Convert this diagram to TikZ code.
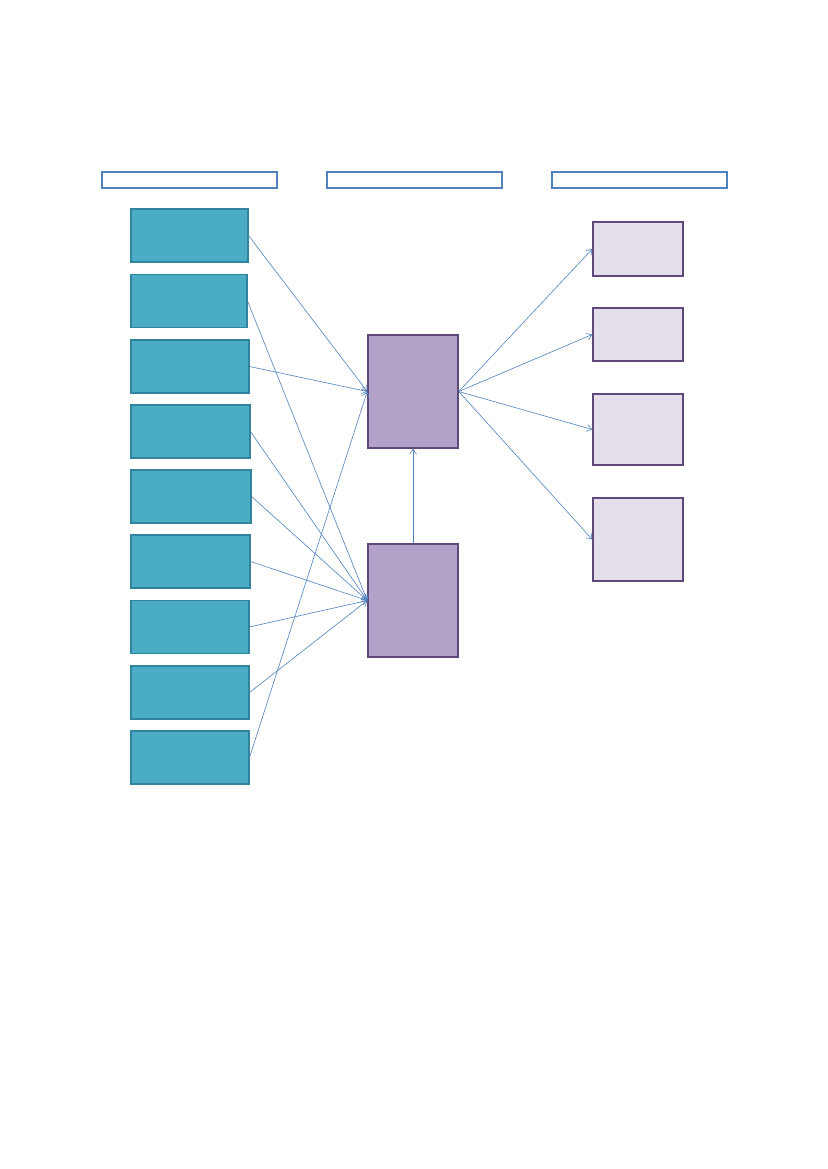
\documentclass[tikz,border=0pt]{standalone}
\usetikzlibrary{arrows.meta,positioning}
\definecolor{hdr}{HTML}{4F81BD}
\definecolor{tealf}{HTML}{4BACC6}
\definecolor{teald}{HTML}{31849B}
\definecolor{plum}{HTML}{B2A2C7}
\definecolor{plumd}{HTML}{5F497A}
\definecolor{lilac}{HTML}{E5DFEC}
\tikzset{h/.style={draw=hdr,line width=1.5pt,minimum width=175pt,minimum height=16pt,inner sep=0pt},
 src/.style={draw=teald,fill=tealf,line width=1.5pt,minimum height=53pt,inner sep=0pt},
 hub/.style={draw=plumd,fill=plum,line width=1.5pt,minimum width=90pt,minimum height=113pt,inner sep=0pt},
 res/.style={draw=plumd,fill=lilac,line width=1.5pt,minimum width=90pt,inner sep=0pt},
 flow/.style={-{Straight Barb[length=5pt,width=7pt]},draw=hdr,line width=.6pt}}

\begin{document}
\begin{tikzpicture}[x=1pt,y=-1pt]
\useasboundingbox (0,0) rectangle (827,1169);
% headers
\node[h] (h1) at (189.5,180){};
\node[h] (h2) at (414.5,180){};
\node[h] (h3) at (639.5,180){};
% source boxes
\foreach \i/\y/\w in {1/235.5/117,2/301/116,3/366.5/118,4/431.5/119,5/496.5/120,6/561.5/119,7/627/118,8/692.5/118,9/757.5/118}
  \node[src,minimum width=\w pt,anchor=west] (s\i) at (130,\y){};
% hubs
\node[hub] (up) at (413,391.5){};
\node[hub] (low) at (413,600.5){};
% outputs
\node[res,minimum height=54pt] (o1) at (638,249){};
\node[res,minimum height=53pt] (o2) at (638,334.5){};
\node[res,minimum height=71pt] (o3) at (638,429.5){};
\node[res,minimum height=83pt] (o4) at (638,539.5){};
% links
\foreach \i in {1,3,9} \draw[flow] (s\i.east) -- (up.west);
\foreach \i in {2,4,5,6,7,8} \draw[flow] (s\i.east) -- (low.west);
\draw[flow] (low.north) -- (up.south);
\foreach \i in {1,...,4} \draw[flow] (up.east) -- (o\i.west);
\end{tikzpicture}
\end{document}
